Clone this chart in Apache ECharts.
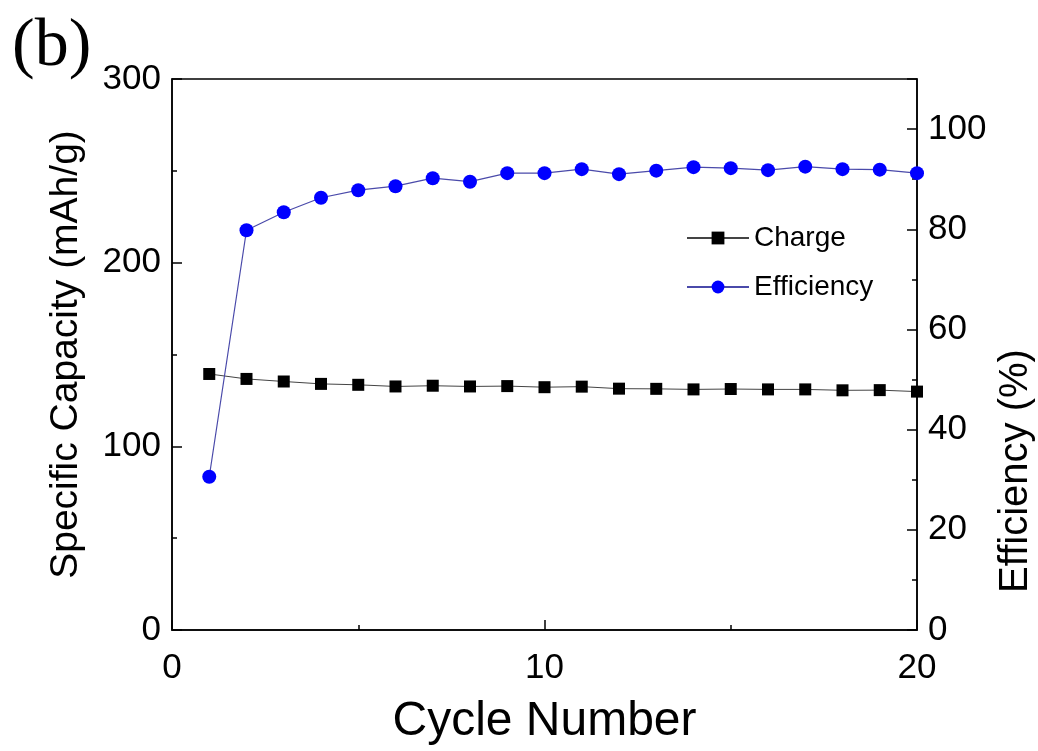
<!DOCTYPE html>
<html>
<head>
<meta charset="utf-8">
<script src="https://cdn.jsdelivr.net/npm/echarts@6/dist/echarts.min.js"></script>
<style>html,body{margin:0;padding:0;background:#fff}#c{width:1038px;height:751px}</style>
</head>
<body>
<div id="c"></div>
<script>
const cycles = [1,2,3,4,5,6,7,8,9,10,11,12,13,14,15,16,17,18,19,20];
const charge = [139.4,136.7,135.3,134.0,133.5,132.6,133.0,132.6,132.8,132.2,132.5,131.4,131.3,131.0,131.2,131.0,131.0,130.5,130.6,129.8];
const efficiency = [30.6,79.8,83.4,86.3,87.8,88.6,90.2,89.5,91.2,91.2,92.0,91.0,91.7,92.4,92.2,91.8,92.5,92.0,91.9,91.2];
const seriesNames = ['Charge','Efficiency'];
const xTitle = 'Cycle Number';
const yLeftTitle = 'Specific Capacity (mAh/g)';
const yRightTitle = 'Efficiency (%)';
const panelLabel = '(b)';

const font = 'Liberation Sans, Arial, sans-serif';
const chart = echarts.init(document.getElementById('c'));
const tickStyle = {color:'#000', width:1.5};
chart.setOption({
  backgroundColor:'#fff',
  animation:false,
  graphic:[
    {type:'text', left:12, top:13, style:{text:panelLabel, font:'68px "Liberation Serif", "Times New Roman", serif', fill:'#000'}},
    {type:'text', x:1016, y:471, rotation:Math.PI/2,
     style:{text:yRightTitle, font:'40px "Liberation Sans", Arial, sans-serif', fill:'#000', align:'center', verticalAlign:'middle'}}
  ],
  grid:{left:172, right:121, top:79, bottom:117, show:true, borderColor:'#000', borderWidth:1.5, backgroundColor:'transparent'},
  legend:{
    orient:'vertical', left:681, top:218, itemWidth:62, itemHeight:16, itemGap:19,
    textStyle:{fontFamily:font, fontSize:28, color:'#000', lineHeight:30},
    data:seriesNames
  },
  xAxis:{
    type:'value', min:0, max:20, interval:10,
    name:xTitle, nameLocation:'middle', nameGap:68,
    nameTextStyle:{fontFamily:font, fontSize:48, color:'#000'},
    axisLine:{show:true, lineStyle:tickStyle},
    axisTick:{inside:true, length:10, lineStyle:tickStyle},
    minorTick:{show:true, splitNumber:2, length:5, lineStyle:tickStyle},
    axisLabel:{fontFamily:font, fontSize:35, color:'#000', margin:21},
    splitLine:{show:false}
  },
  yAxis:[{
    type:'value', min:0, max:300, interval:100, position:'left',
    name:yLeftTitle, nameLocation:'middle', nameGap:86,
    nameTextStyle:{fontFamily:font, fontSize:39, color:'#000'},
    axisLine:{show:true, lineStyle:tickStyle},
    axisTick:{inside:true, length:10, lineStyle:tickStyle},
    minorTick:{show:true, splitNumber:2, length:5, lineStyle:tickStyle},
    axisLabel:{fontFamily:font, fontSize:35, color:'#000', margin:11},
    splitLine:{show:false}
  },{
    type:'value', min:0, max:110, interval:10, position:'right',
    axisLine:{show:true, lineStyle:tickStyle},
    axisTick:{inside:true, length:5, lineStyle:tickStyle},
    axisLabel:{fontFamily:font, fontSize:35, color:'#000', margin:11,
      formatter:function(v){return (v%20===0 && v<=100) ? String(v) : '';}},
    splitLine:{show:false}
  },{
    type:'value', min:0, max:110, interval:20, position:'right',
    axisLine:{show:false},
    axisTick:{show:true, inside:true, length:10, lineStyle:tickStyle},
    axisLabel:{show:false},
    splitLine:{show:false}
  }],
  series:[{
    name:seriesNames[0], type:'line', yAxisIndex:0,
    data:cycles.map((c,i)=>[c, charge[i]]),
    symbol:'rect', symbolSize:12,
    itemStyle:{color:'#000'},
    lineStyle:{color:'#444', width:1},
    z:2
  },{
    name:seriesNames[1], type:'line', yAxisIndex:1,
    data:cycles.map((c,i)=>[c, efficiency[i]]),
    symbol:'circle', symbolSize:14,
    itemStyle:{color:'#0000ff'},
    lineStyle:{color:'#4a4aaa', width:1.2},
    z:3
  }]
});
</script>
</body>
</html>
